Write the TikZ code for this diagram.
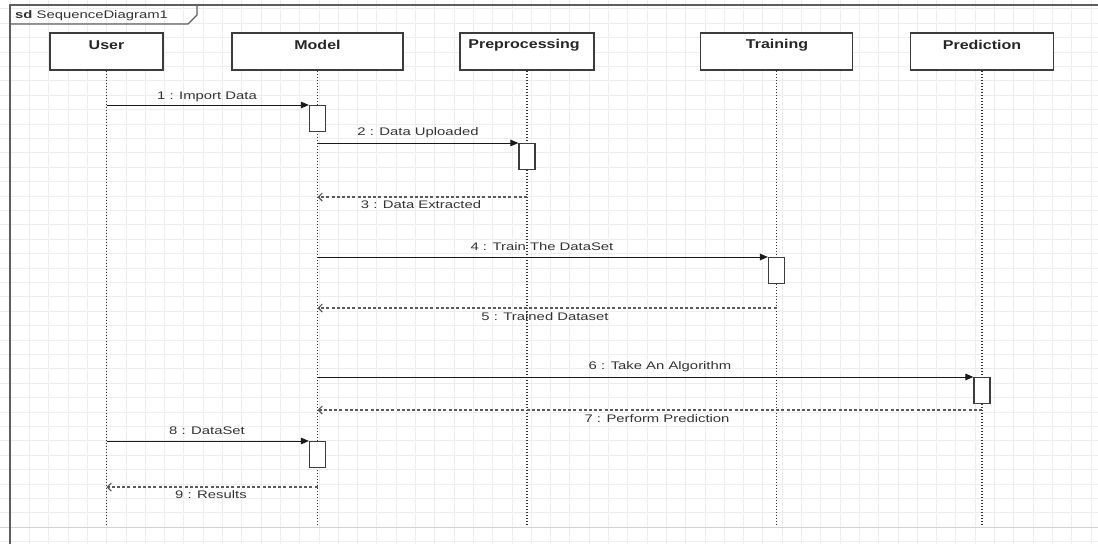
\documentclass[tikz,border=0pt]{standalone}
\usepackage{fontspec}
\setmainfont{Liberation Sans}
\newfontfamily\lblfont[FakeStretch=1.35]{Liberation Sans}
\newfontfamily\hdrfont[FakeStretch=1.25]{Liberation Sans}
\usetikzlibrary{arrows.meta}
\definecolor{gridc}{HTML}{EDEDED}
\definecolor{gridmaj}{HTML}{D2D2D2}
\definecolor{framec}{HTML}{5E5E5E}
\definecolor{boxc}{HTML}{3C3C3C}
\definecolor{lifec}{HTML}{333333}
\definecolor{retc}{HTML}{5A5A5A}
\definecolor{txtc}{HTML}{333333}
\begin{document}
\begin{tikzpicture}[x=1pt,y=-1pt,
  gridline/.style={draw=gridc,line width=0.6pt},
  head/.style={draw=boxc,line width=1.3pt,fill=white,minimum height=37pt,inner sep=0pt},
  hdr/.style={font=\fontsize{12.8}{14}\hdrfont\bfseries,text=black!85,inner sep=0pt},
  lbl/.style={font=\fontsize{11}{13}\lblfont,text=txtc,inner sep=0pt},
  life/.style={draw=lifec,line width=1.5pt,dash pattern=on 1.3pt off 1.7pt},
  act/.style={draw=boxc,line width=1.1pt,fill=white,minimum width=16pt,minimum height=26pt,inner sep=0pt,anchor=north},
  msg/.style={draw=black!90,line width=1pt,-{Triangle[length=8pt,width=6.5pt]}},
  ret/.style={draw=retc,line width=1.1pt,dash pattern=on 3pt off 2.2pt,-{Straight Barb[length=4pt,width=8pt]}},
  framel/.style={draw=framec,line width=1.1pt}]
\useasboundingbox (0,0) rectangle (1098,544);
% grid
\foreach \i in {0,...,56} \draw[gridline] ({10+19.3*\i},0) -- ({10+19.3*\i},544);
\foreach \j in {-1,...,37} \draw[gridline] (0,{527-14.4*\j}) -- (1098,{527-14.4*\j});
\draw[draw=gridmaj,line width=0.8pt] (0,527) -- (1098,527);
% frame
\draw[framel] (10,544) -- (10,5) -- (1098,5);
\draw[framel] (10,24) -- (188,24) -- (197,15) -- (197,5);
\node[anchor=base west,font=\fontsize{11}{13}\lblfont,text=txtc,inner sep=0pt] (sdlabel) at (15,18.5) {\textbf{sd} SequenceDiagram1};
% lifeline heads
\node[head,minimum width=113pt] (user) at (106.5,51.5) {};
\node[head,minimum width=171pt] (model) at (317.5,51.5) {};
\node[head,minimum width=134pt] (pre) at (527,51.5) {};
\node[head,minimum width=152pt] (train) at (776.5,51.5) {};
\node[head,minimum width=143pt] (pred) at (982,51.5) {};
\node[hdr] (userT) at (106.5,45) {User};
\node[hdr] (modelT) at (317.5,45) {Model};
\node[hdr] (preT) at (524,45) {Preprocessing};
\node[hdr] (trainT) at (777,45) {Training};
\node[hdr] (predT) at (982,45) {Prediction};
% lifeline ends
\coordinate (userE) at (user.south |- 0,526);
\coordinate (modelE) at (model.south |- 0,526);
\coordinate (preE) at (pre.south |- 0,526);
\coordinate (trainE) at (train.south |- 0,526);
\coordinate (predE) at (pred.south |- 0,526);
\draw[life] (user.south) -- (userE);
\draw[life] (model.south) -- (modelE);
\draw[life] (pre.south) -- (preE);
\draw[life] (train.south) -- (trainE);
\draw[life] (pred.south) -- (predE);
% activations
\node[act] (a1) at (model.south |- 0,105) {};
\node[act] (a2) at (pre.south |- 0,143) {};
\node[act] (a4) at (train.south |- 0,257) {};
\node[act] (a6) at (pred.south |- 0,377) {};
\node[act] (a8) at (model.south |- 0,441) {};
% message start/end points
\coordinate (m1s) at (user.south |- 0,105);
\coordinate (m2s) at (model.south |- 0,143);
\coordinate (m3s) at (pre.south |- 0,197);
\coordinate (m3e) at (model.south |- 0,197);
\coordinate (m4s) at (model.south |- 0,257);
\coordinate (m5s) at (train.south |- 0,308);
\coordinate (m5e) at (model.south |- 0,308);
\coordinate (m6s) at (model.south |- 0,377);
\coordinate (m7s) at (pred.south |- 0,410);
\coordinate (m7e) at (model.south |- 0,410);
\coordinate (m8s) at (user.south |- 0,441);
\coordinate (m9s) at (model.south |- 0,487);
\coordinate (m9e) at (user.south |- 0,487);
% messages
\draw[msg] (m1s) -- (a1.north west);
\draw[msg] (m2s) -- (a2.north west);
\draw[ret] (m3s) -- (m3e);
\draw[msg] (m4s) -- (a4.north west);
\draw[ret] (m5s) -- (m5e);
\draw[msg] (m6s) -- (a6.north west);
\draw[ret] (m7s) -- (m7e);
\draw[msg] (m8s) -- (a8.north west);
\draw[ret] (m9s) -- (m9e);
% labels
\node[lbl] (l1) at (207,97) {1 : Import Data};
\node[lbl] (l2) at (418,133) {2 : Data Uploaded};
\node[lbl] (l3) at (421,205) {3 : Data Extracted};
\node[lbl] (l4) at (542,247) {4 : Train The DataSet};
\node[lbl] (l5) at (545,317) {5 : Trained Dataset};
\node[lbl] (l6) at (660,367) {6 : Take An Algorithm};
\node[lbl] (l7) at (657,419) {7 : Perform Prediction};
\node[lbl] (l8) at (207,431) {8 : DataSet};
\node[lbl] (l9) at (211,495) {9 : Results};
\end{tikzpicture}
\end{document}
